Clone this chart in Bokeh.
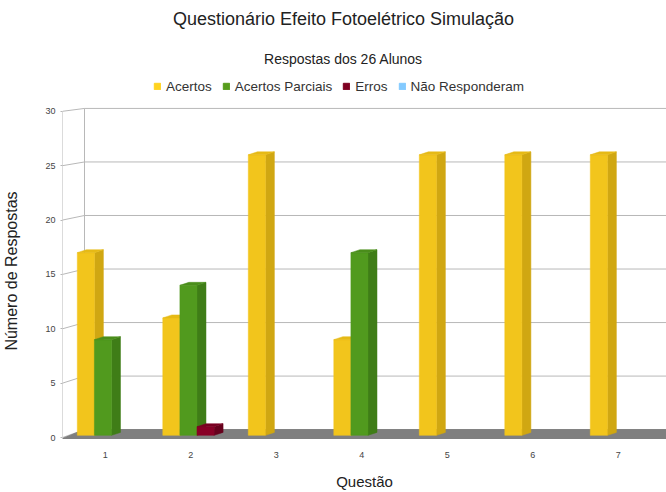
from bokeh.plotting import figure
from bokeh.layouts import column
from bokeh.models import Legend, LegendItem, FixedTicker, Range1d
from bokeh.core.properties import value
from bokeh.embed import file_html
from bokeh.resources import INLINE

# ---- data ----
questions = ["1", "2", "3", "4", "5", "6", "7"]
acertos = [17, 11, 26, 9, 26, 26, 26]
acertos_parciais = [9, 14, 0, 17, 0, 0, 0]
erros = [0, 1, 0, 0, 0, 0, 0]
nao_responderam = [0, 0, 0, 0, 0, 0, 0]
series_names = ["Acertos", "Acertos Parciais", "Erros", "Não Responderam"]
y_ticks = [0, 5, 10, 15, 20, 25, 30]
title_text = "Questionário Efeito Fotoelétrico Simulação"
subtitle_text = "Respostas dos 26 Alunos"

series_values = [acertos, acertos_parciais, erros, nao_responderam]
legend_colors = ["#FFD320", "#579D1C", "#7E0021", "#83CAFF"]
front_colors = ["#F2C51C", "#519A1E", "#880026", "#83CAFF"]
side_colors = ["#D0A712", "#3F7D17", "#66001C", "#6AAEE0"]
top_colors = ["#E6BA16", "#4A8E1B", "#7A0022", "#78BDF0"]

FONT = "Liberation Sans"

# ---------------- header (title, subtitle, legend) ----------------
# header frame is aligned with the chart frame (pixels 62..666)
h = figure(width=666, height=100, output_backend="svg", toolbar_location=None,
           x_range=Range1d(62, 666), y_range=Range1d(0, 100),
           min_border_left=62, min_border_right=0, min_border_top=0, min_border_bottom=0,
           x_axis_type=None, y_axis_type=None)
h.outline_line_color = None
h.xgrid.visible = False
h.ygrid.visible = False
h.text(x=[343], y=[82], text=[title_text], text_align="center", text_baseline="middle",
       text_font=value(FONT), text_font_size="18px", text_color="#222222")
h.text(x=[343], y=[42], text=[subtitle_text], text_align="center", text_baseline="middle",
       text_font=value(FONT), text_font_size="14px", text_color="#222222")
legend_items = []
for j, name in enumerate(series_names):
    # swatch renderers placed off-frame; only their legend entries show
    lr = h.patches(xs=[[-60, -50, -50, -60]], ys=[[-60, -60, -50, -50]],
                   fill_color=legend_colors[j], line_color=legend_colors[j])
    legend_items.append(LegendItem(label=name, renderers=[lr]))
legend = Legend(items=legend_items, location=(91, 6), orientation="horizontal",
                glyph_width=8, glyph_height=8, label_standoff=5, spacing=10,
                padding=0, margin=0, border_line_color=None, background_fill_alpha=0,
                label_text_font=FONT, label_text_font_size="13.5px", label_text_color="#333333",
                label_height=16)
h.add_layout(legend)

# ---------------- main chart ----------------
# geometry (px -> data): x: 85.5 px per category, y: 10.97 px per unit
XU, YU = 85.5, 10.97
ddx, ddy = 9 / XU, 3 / YU          # bar depth offset
wall_dx = 22 / XU                  # back wall offset
bar_w = 17.1 / XU
bar_off = 0.173
bar_base = 0.2

def back_y(v):
    return 0.729 + 0.9845 * v

x0r = 0.5
x1r = 0.5 + 604 / XU
p = figure(width=666, height=392, output_backend="svg", toolbar_location=None,
           x_range=Range1d(x0r, x1r), y_range=Range1d(-4 / YU, 340 / YU),
           min_border_left=62, min_border_right=0, min_border_top=0, min_border_bottom=48,
           background_fill_color="white", border_fill_color="white")
p.outline_line_color = None
p.xgrid.visible = False
p.ygrid.visible = False

# walls / grid
wx = x0r + wall_dx
p.segment(x0=[wx] * len(y_ticks), y0=[back_y(t) for t in y_ticks],
          x1=[x1r + 1] * len(y_ticks), y1=[back_y(t) for t in y_ticks],
          line_color="#b8b8b8", line_width=1)
p.segment(x0=[x0r] * len(y_ticks), y0=y_ticks,
          x1=[wx] * len(y_ticks), y1=[back_y(t) for t in y_ticks],
          line_color="#b8b8b8", line_width=1)
p.segment(x0=[x0r, wx], y0=[0, back_y(0)], x1=[x0r, wx], y1=[y_ticks[-1], back_y(y_ticks[-1])],
          line_color="#b8b8b8", line_width=1)

# floor
p.patch(x=[x0r, x1r + 1, x1r + 1 + wall_dx, wx], y=[-0.09, -0.09, back_y(0), back_y(0)],
        fill_color="#7f7f7f", line_color="#7f7f7f")

# bars
for j, vals in enumerate(series_values):
    fx, fy, sx, sy, tx, ty = [], [], [], [], [], []
    for k, v in enumerate(vals):
        if v <= 0:
            continue
        c = k + 1
        a = c - 0.5 + bar_off + j * bar_w
        b = a + bar_w
        fx.append([a, b, b, a]); fy.append([bar_base, bar_base, v, v])
        sx.append([b, b + ddx, b + ddx, b]); sy.append([bar_base, bar_base + ddy, v + ddy, v])
        tx.append([a, b, b + ddx, a + ddx]); ty.append([v, v, v + ddy, v + ddy])
    if fx:
        p.patches(xs=sx, ys=sy, fill_color=side_colors[j], line_color=side_colors[j], line_width=0.5)
        p.patches(xs=fx, ys=fy, fill_color=front_colors[j], line_color=front_colors[j], line_width=0.5)
        p.patches(xs=tx, ys=ty, fill_color=top_colors[j], line_color=top_colors[j], line_width=0.5)

# axes
p.xaxis.ticker = FixedTicker(ticks=list(range(1, len(questions) + 1)))
p.xaxis.major_label_overrides = {i + 1: q for i, q in enumerate(questions)}
p.xaxis.axis_line_color = None
p.xaxis.major_tick_line_color = None
p.xaxis.minor_tick_line_color = None
p.xaxis.major_label_standoff = 4
p.xaxis.major_label_text_font = FONT
p.xaxis.major_label_text_font_size = "9px"
p.xaxis.major_label_text_color = "#444444"
p.xaxis.axis_label = "Questão"
p.xaxis.axis_label_text_font = FONT
p.xaxis.axis_label_text_font_size = "15px"
p.xaxis.axis_label_text_font_style = "normal"
p.xaxis.axis_label_text_color = "#222222"
p.xaxis.axis_label_standoff = 12

p.yaxis.ticker = FixedTicker(ticks=y_ticks)
p.yaxis.axis_line_color = None
p.yaxis.major_tick_out = 2
p.yaxis.major_tick_in = 0
p.yaxis.major_tick_line_color = "#b8b8b8"
p.yaxis.minor_tick_line_color = None
p.yaxis.major_label_standoff = 5
p.yaxis.major_label_text_font = FONT
p.yaxis.major_label_text_font_size = "9px"
p.yaxis.major_label_text_color = "#444444"
p.yaxis.axis_label = "Número de Respostas"
p.yaxis.axis_label_text_font = FONT
p.yaxis.axis_label_text_font_size = "16px"
p.yaxis.axis_label_text_font_style = "normal"
p.yaxis.axis_label_text_color = "#222222"
p.yaxis.axis_label_standoff = 22

layout = column(h, p, spacing=0)
open("out.html", "w").write(file_html(layout, INLINE))
